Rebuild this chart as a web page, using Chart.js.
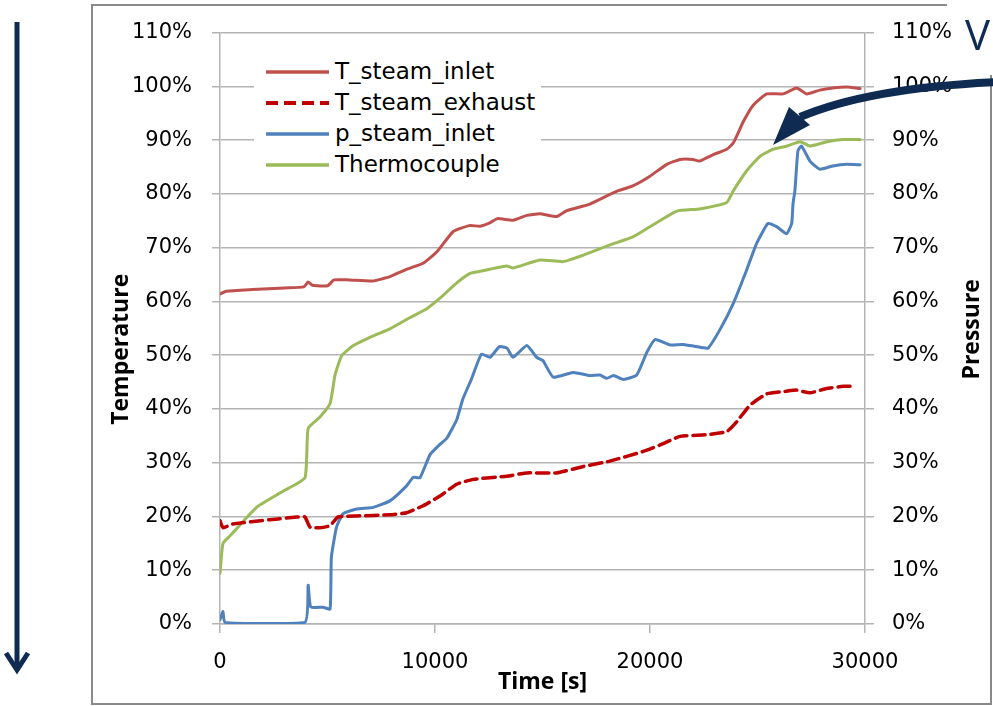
<!DOCTYPE html>
<html>
<head>
<meta charset="utf-8">
<title>Steam test</title>
<script src="https://cdn.jsdelivr.net/npm/chart.js"></script>
<style>
  html, body { margin: 0; padding: 0; background: #fff; }
  #wrap { position: relative; width: 993px; height: 706px; }
  #legend {
    position: absolute; left: 254px; top: 50px; width: 287px; height: 136px;
    background: #fff; padding-top: 6px; box-sizing: border-box;
    font-family: "DejaVu Sans", sans-serif; font-size: 23px; color: #000;
  }
  #legend .row { height: 31px; line-height: 31px; display: flex; align-items: center; padding-left: 11px; }
  #legend svg { width: 65px; height: 8px; margin-right: 5px; flex: none; }
</style>
</head>
<body>
<div id="wrap">
  <canvas id="chart" width="993" height="706"></canvas>
  <div id="legend"></div>
</div>
<script>
// time in seconds, values in percent
const inletTime = [0, 300, 1500, 3000, 3900, 4100, 4300, 5000, 5300, 6000, 7100, 7900, 8700, 9450, 10100, 10850, 11600, 12100, 12550, 12900, 13630, 14270, 14880, 15670, 16130, 17200, 18460, 19200, 20000, 20780, 21400, 22000, 22300, 22940, 23570, 23880, 24350, 24800, 25430, 26200, 26820, 27290, 27900, 28510, 29150, 29770];
const inletTemp = [61.4, 61.9, 62.2, 62.5, 62.7, 63.6, 63.0, 62.9, 64.0, 64.0, 63.8, 64.6, 66.0, 67.1, 69.3, 73.0, 74.1, 74.0, 74.6, 75.4, 75.1, 76.0, 76.3, 75.8, 76.9, 78.1, 80.5, 81.5, 83.3, 85.5, 86.4, 86.4, 86.1, 87.3, 88.3, 89.5, 93.5, 96.5, 98.6, 98.6, 99.7, 98.6, 99.3, 99.7, 99.9, 99.6];

const exhaustTime = [0, 140, 600, 2330, 3570, 3950, 4190, 4650, 5120, 5490, 6360, 7900, 8680, 9450, 10230, 11010, 11780, 13330, 14270, 15660, 16900, 18140, 19690, 20470, 21400, 22630, 23570, 24030, 24650, 25430, 26350, 26820, 27440, 28210, 28980, 29530];
const exhaustTemp = [19.2, 17.9, 18.6, 19.4, 19.9, 19.9, 18.0, 17.9, 18.3, 19.9, 20.1, 20.3, 20.7, 22.0, 23.8, 26.0, 26.9, 27.5, 28.1, 28.1, 29.3, 30.3, 32.1, 33.3, 34.9, 35.2, 35.8, 37.6, 40.7, 42.8, 43.3, 43.5, 43.0, 43.8, 44.2, 44.2];

const pressTime = [0, 140, 230, 3950, 4100, 4220, 4800, 5120, 5180, 5420, 5720, 6360, 7130, 7900, 8680, 8990, 9300, 9770, 10230, 10540, 11010, 11300, 11700, 12160, 12560, 13000, 13350, 13630, 14270, 14730, 15020, 15500, 16420, 17200, 17670, 17990, 18300, 18760, 19380, 19850, 20230, 20930, 21540, 22460, 22700, 23260, 23880, 24500, 24960, 25490, 25890, 26350, 26590, 26650, 26740, 26880, 27050, 27440, 27900, 28510, 29150, 29770];
const pressValue = [0.8, 2.3, 0.3, 0.3, 7.2, 3.2, 3.1, 2.8, 12.4, 18.0, 20.5, 21.4, 21.7, 22.9, 25.7, 27.3, 27.2, 31.5, 33.4, 34.5, 38.0, 41.9, 45.6, 50.2, 49.6, 51.6, 51.3, 49.6, 51.8, 49.6, 49.0, 45.9, 46.8, 46.2, 46.3, 45.7, 46.2, 45.5, 46.3, 50.5, 52.9, 51.9, 52.0, 51.4, 51.3, 54.8, 59.7, 65.9, 70.8, 74.5, 73.9, 72.6, 74.5, 78.1, 80.6, 88.0, 88.9, 86.1, 84.6, 85.2, 85.5, 85.4];

const thermoTime = [0, 140, 470, 1700, 2930, 3950, 4100, 4650, 5120, 5350, 5660, 6200, 7130, 7900, 8840, 9600, 10230, 11000, 11630, 12100, 12560, 13330, 13630, 14880, 15970, 16900, 18140, 19200, 20000, 21250, 22300, 23570, 23880, 24500, 25120, 25720, 26370, 26980, 27440, 28230, 28980, 29770];
const thermoTemp = [9.4, 15.0, 16.4, 21.7, 24.7, 27.2, 36.4, 38.5, 41.0, 46.3, 49.9, 51.8, 53.6, 54.9, 57.0, 58.6, 60.6, 63.4, 65.2, 65.6, 66.0, 66.6, 66.2, 67.7, 67.4, 68.6, 70.5, 72.0, 73.9, 76.8, 77.2, 78.4, 80.6, 84.3, 87.0, 88.3, 88.9, 89.7, 88.9, 89.7, 90.1, 90.1];

const seriesNames = ['T_steam_inlet', 'T_steam_exhaust', 'p_steam_inlet', 'Thermocouple'];
const timeTicks = [0, 10000, 20000, 30000];
const percentTicks = [0, 10, 20, 30, 40, 50, 60, 70, 80, 90, 100, 110];

function pts(xs, ys) { return xs.map((x, i) => ({x: x, y: ys[i]})); }

const gridGray = '#b4b4b4';
const tickFont = {family: 'DejaVu Sans', size: 21};
const titleFont = {family: 'Open Sans', size: 23, weight: 'bold'};
const navy = '#0f2b52';

// frame, slide arrows and the two rotated axis titles
const decor = {
  id: 'decor',
  afterDraw(chart) {
    const c = chart.ctx;
    const a = chart.chartArea;
    c.save();
    c.strokeStyle = '#8a8a8a';
    c.lineWidth = 2;
    c.beginPath();
    c.moveTo(947, 5); c.lineTo(92, 5); c.lineTo(92, 704); c.lineTo(991, 704); c.lineTo(991, 75);
    c.stroke();

    c.fillStyle = '#000';
    c.font = 'bold 23px "Open Sans"';
    c.textAlign = 'center';
    c.textBaseline = 'middle';
    c.translate(a.left - 99, (a.top + a.bottom) / 2 + 21);
    c.rotate(-Math.PI / 2);
    c.fillText('Temperature', 0, 0);
    c.restore();

    c.save();
    c.fillStyle = '#000';
    c.font = 'bold 23px "Open Sans"';
    c.textAlign = 'center';
    c.textBaseline = 'middle';
    c.translate(a.right + 107, (a.top + a.bottom) / 2 + 1);
    c.rotate(-Math.PI / 2);
    c.fillText('Pressure', 0, 0);
    c.restore();

    // left down arrow
    c.save();
    c.strokeStyle = navy;
    c.lineWidth = 5;
    c.lineCap = 'butt';
    c.beginPath(); c.moveTo(17, 22); c.lineTo(17, 668); c.stroke();
    c.lineJoin = 'miter';
    c.beginPath(); c.moveTo(6, 653); c.lineTo(17, 670); c.lineTo(28, 653); c.stroke();

    // curved arrow
    c.lineWidth = 8;
    c.beginPath(); c.moveTo(996, 82); c.quadraticCurveTo(868, 88, 800, 117); c.stroke();
    c.fillStyle = navy;
    c.beginPath(); c.moveTo(773, 145); c.lineTo(789, 107); c.lineTo(810, 125); c.closePath(); c.fill();

    c.font = '42px "Open Sans"';
    c.textAlign = 'left';
    c.textBaseline = 'alphabetic';
    c.fillText('V', 965, 50);
    c.restore();
  }
};

const chart = new Chart(document.getElementById('chart'), {
  type: 'line',
  data: {
    datasets: [
      {label: seriesNames[0], data: pts(inletTime, inletTemp), borderColor: '#c0504d', borderWidth: 3, yAxisID: 'y'},
      {label: seriesNames[1], data: pts(exhaustTime, exhaustTemp), borderColor: '#c00000', borderWidth: 3.5, borderDash: [12, 6], yAxisID: 'y'},
      {label: seriesNames[2], data: pts(pressTime, pressValue), borderColor: '#4f81bd', borderWidth: 3, yAxisID: 'y1'},
      {label: seriesNames[3], data: pts(thermoTime, thermoTemp), borderColor: '#9bbb59', borderWidth: 3, yAxisID: 'y'}
    ]
  },
  options: {
    responsive: false,
    animation: false,
    events: [],
    parsing: true,
    elements: { point: { radius: 0 }, line: { tension: 0.15, borderCapStyle: 'round', borderJoinStyle: 'round' } },
    layout: { padding: { top: 27, left: 0, right: 0, bottom: 0 } },
    plugins: { legend: { display: false }, tooltip: { enabled: false } },
    scales: {
      x: {
        type: 'linear', min: 0, max: 30000,
        afterBuildTicks: (s) => { s.ticks = timeTicks.map(v => ({value: v})); },
        afterFit: (s) => { s.height = 82; },
        ticks: { font: tickFont, color: '#000', padding: 17, maxRotation: 0, autoSkip: false, callback: (v) => String(v) },
        grid: { drawOnChartArea: false, drawTicks: true, tickLength: 9, color: gridGray, lineWidth: 1.5 },
        border: { display: true, color: gridGray, width: 1.5 },
        title: { display: true, text: 'Time [s]', font: titleFont, color: '#000', padding: { bottom: 10 } }
      },
      y: {
        position: 'left', min: 0, max: 110,
        afterBuildTicks: (s) => { s.ticks = percentTicks.map(v => ({value: v})); },
        afterFit: (s) => { s.width = 220; },
        ticks: { font: tickFont, color: '#000', padding: 20, callback: (v) => v + '%' },
        grid: { color: gridGray, lineWidth: 1.5, tickLength: 8 },
        border: { display: true, color: gridGray, width: 1.5 }
      },
      y1: {
        position: 'right', min: 0, max: 110,
        afterBuildTicks: (s) => { s.ticks = percentTicks.map(v => ({value: v})); },
        afterFit: (s) => { s.width = 128; },
        ticks: { font: tickFont, color: '#000', padding: 18, callback: (v) => v + '%' },
        grid: { drawOnChartArea: false, color: gridGray, lineWidth: 1.5, tickLength: 9 },
        border: { display: true, color: gridGray, width: 1.5 }
      }
    }
  },
  plugins: [decor]
});

// html legend built from the datasets
const legendBox = document.getElementById('legend');
chart.data.datasets.forEach((ds) => {
  const row = document.createElement('div');
  row.className = 'row';
  const dash = ds.borderDash ? ds.borderDash.join(' ') : 'none';
  row.innerHTML = '<svg viewBox="0 0 65 8"><line x1="1" y1="4" x2="64" y2="4" stroke="' + ds.borderColor +
    '" stroke-width="' + (ds.borderWidth + 0.5) + '" stroke-dasharray="' + dash + '"/></svg><span>' + ds.label + '</span>';
  legendBox.appendChild(row);
});
</script>
</body>
</html>
